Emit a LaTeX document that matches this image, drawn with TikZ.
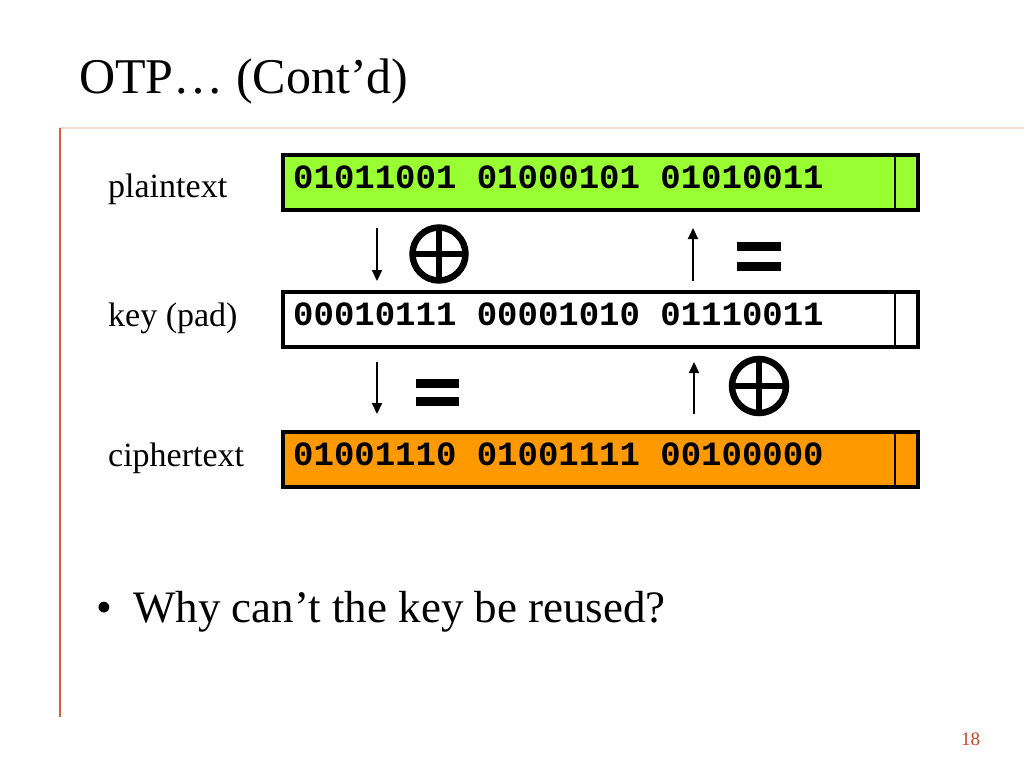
\documentclass[tikz,border=0pt]{standalone}
\usepackage{fontspec}
\setmainfont{Liberation Serif}
\newfontfamily\monofnt{Liberation Mono}
\usetikzlibrary{arrows.meta,calc}
\definecolor{ptgreen}{HTML}{99FF33}
\definecolor{ctorange}{HTML}{FF9900}
\definecolor{framered}{HTML}{D2603C}
\definecolor{framelight}{HTML}{F2DCD2}
\definecolor{pnred}{HTML}{C8461E}
\tikzset{
  databox/.style={draw=black, line width=4pt, minimum width=635pt, minimum height=55pt, inner sep=0pt, outer sep=0pt},
  divider/.style={draw=black, line width=1.8pt},
  bits/.style={anchor=base west, inner sep=0pt, font=\monofnt\bfseries\fontsize{34}{40}\selectfont},
  rowlabel/.style={anchor=base west, inner sep=0pt, font=\fontsize{34}{40}\selectfont},
  flow/.style={line width=2pt, -{Triangle[width=10pt,length=11pt]}},
  xorsym/.style={line width=6.5pt},
  eqbar/.style={fill=black},
}
\begin{document}
\begin{tikzpicture}[x=1pt,y=-1pt]
\useasboundingbox[fill=white] (0,0) rectangle (1024,768);
% slide frame
\draw[framelight, line width=2pt] (60,128) -- (1024,128);
\draw[framered, line width=2pt] (60,128) -- (60,717);
% title
\node[anchor=base west, inner sep=0pt, font=\fontsize{50}{60}\selectfont] (title) at (79,93) {OTP… (Cont’d)};
% boxes
\node[databox, fill=ptgreen] (pt) at (600.5,182.5) {};
\node[databox, fill=white] (key) at (600.5,319.5) {};
\node[databox, fill=ctorange] (ct) at (600.5,459.5) {};
\foreach \b in {pt,key,ct}{
  \draw[divider] ([xshift=-23pt]\b.north east) -- ([xshift=-23pt]\b.south east);
}
% bits
\node[bits] (ptbits) at (293,188) {01011001 01000101 01010011};
\node[bits] (keybits) at (293,325) {00010111 00001010 01110011};
\node[bits] (ctbits) at (293,465) {01001110 01001111 00100000};
% labels
\node[rowlabel] (ptlab) at (108,197) {plaintext};
\node[rowlabel] (keylab) at (108,326) {key (pad)};
\node[rowlabel] (ctlab) at (108,466) {ciphertext};
% arrows
\coordinate (d1s) at (377,228); \coordinate (d1e) at (377,281);
\coordinate (u1s) at (693,281); \coordinate (u1e) at (693,228);
\coordinate (d2s) at (377,362); \coordinate (d2e) at (377,414);
\coordinate (u2s) at (694,414); \coordinate (u2e) at (694,362);
\draw[flow] (d1s) -- (d1e);
\draw[flow] (u1s) -- (u1e);
\draw[flow] (d2s) -- (d2e);
\draw[flow] (u2s) -- (u2e);
% xor symbols
\coordinate (x1) at (439,254);
\draw[xorsym] (x1) circle[radius=26.5];
\draw[xorsym] ($(x1)+(-26.5,0)$) -- ($(x1)+(26.5,0)$);
\draw[xorsym] ($(x1)+(0,-26.5)$) -- ($(x1)+(0,26.5)$);
\coordinate (x2) at (759,386);
\draw[xorsym] (x2) circle[radius=27];
\draw[xorsym] ($(x2)+(-27,0)$) -- ($(x2)+(27,0)$);
\draw[xorsym] ($(x2)+(0,-27)$) -- ($(x2)+(0,27)$);
% equals signs
\fill[eqbar] (737,242) rectangle (781,251);
\fill[eqbar] (737,262) rectangle (781,271);
\fill[eqbar] (416,379) rectangle (459,388);
\fill[eqbar] (416,397) rectangle (459,406);
% bullet
\node[anchor=base west, inner sep=0pt, font=\fontsize{45}{54}\selectfont] (bul) at (96,622) {•};
\node[anchor=base west, inner sep=0pt, font=\fontsize{45}{54}\selectfont] (q) at (133,622) {Why can’t the key be reused?};
% page number
\node[anchor=base west, inner sep=0pt, text=pnred, font=\fontsize{19}{22}\selectfont] (pn) at (961,745) {18};
\end{tikzpicture}
\end{document}
